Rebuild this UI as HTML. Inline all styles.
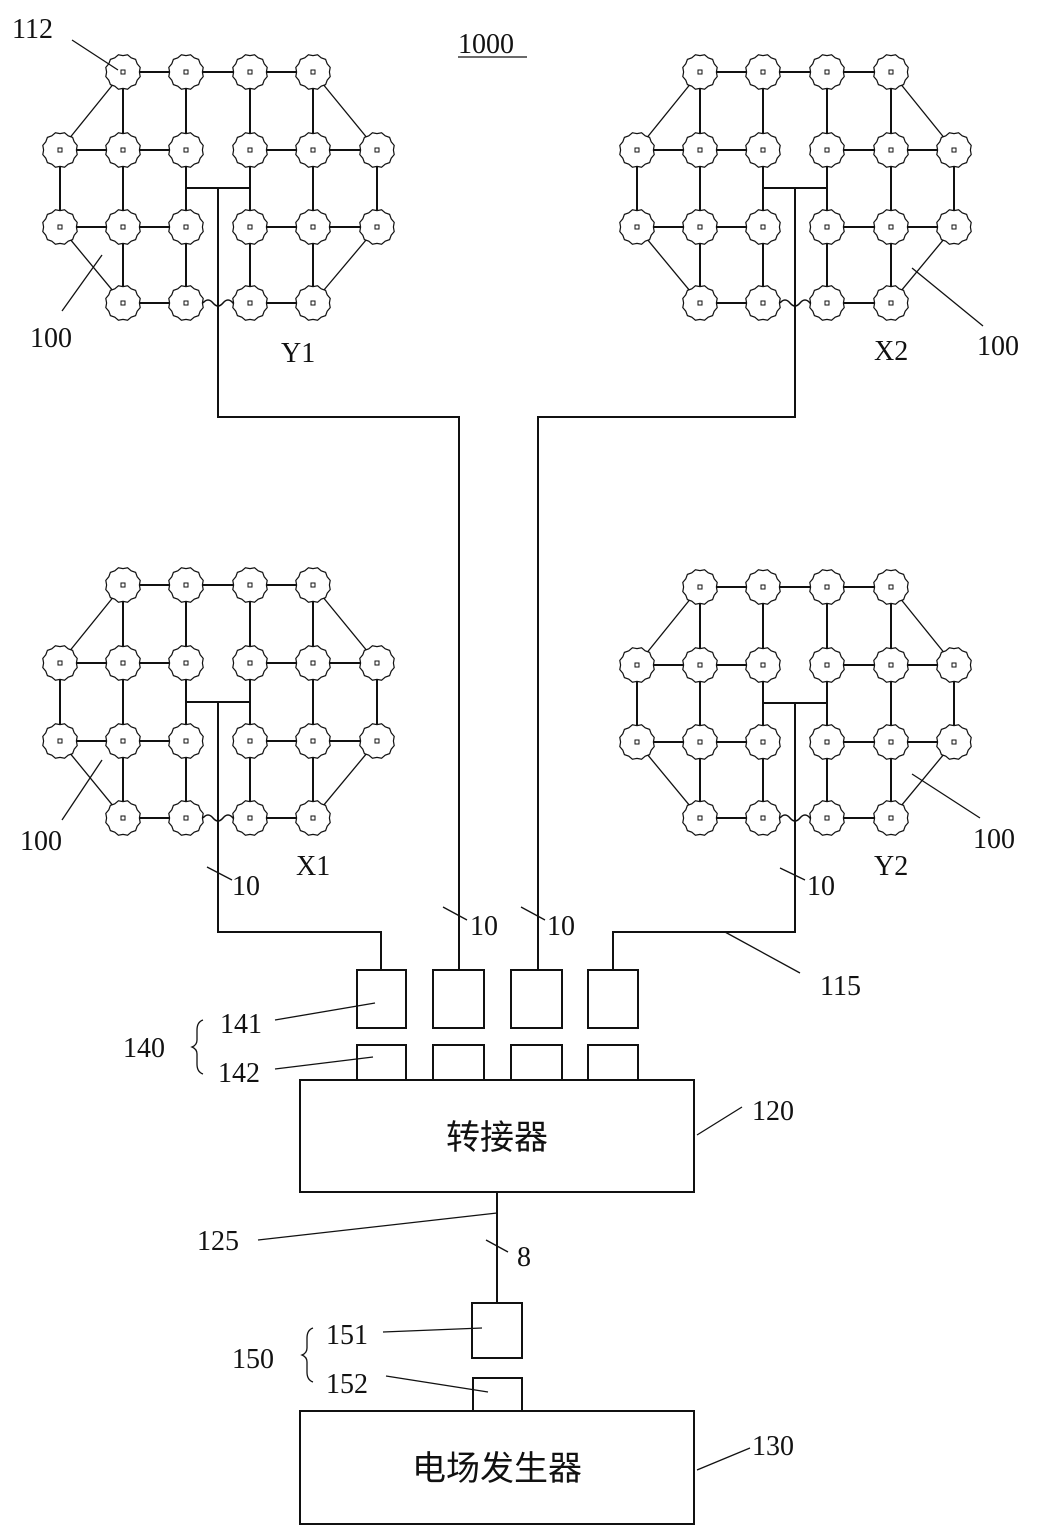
<!DOCTYPE html>
<html><head><meta charset="utf-8"><style>
html,body{margin:0;padding:0;background:#fff;}
svg{display:block;}
text{font-family:"Liberation Serif","Noto Serif CJK SC",serif;font-size:28px;fill:#111;}
.cn{font-family:"Liberation Sans","Noto Sans CJK SC",sans-serif;font-size:34px;}
</style></head><body>
<svg id="s" width="1044" height="1539" viewBox="0 0 1044 1539" xmlns="http://www.w3.org/2000/svg" stroke="#111" stroke-width="2" fill="none">
<g id="arrays"></g>
<polyline points="218,188 218,417 459,417 459,970"/>
<polyline points="795,188 795,417 538,417 538,970"/>
<polyline points="218,702 218,932 381,932 381,970"/>
<polyline points="795,702 795,932 613,932 613,970"/>
<rect x="357" y="970" width="49" height="58"/>
<rect x="433" y="970" width="51" height="58"/>
<rect x="511" y="970" width="51" height="58"/>
<rect x="588" y="970" width="50" height="58"/>
<rect x="357" y="1045" width="49" height="35"/>
<rect x="433" y="1045" width="51" height="35"/>
<rect x="511" y="1045" width="51" height="35"/>
<rect x="588" y="1045" width="50" height="35"/>
<rect x="300" y="1080" width="394" height="112"/>
<line x1="497" y1="1192" x2="497" y2="1303"/>
<rect x="472" y="1303" width="50" height="55"/>
<rect x="473" y="1378" width="49" height="33"/>
<rect x="300" y="1411" width="394" height="113"/>
<g stroke-width="1.3">
<line x1="72" y1="40" x2="118" y2="70"/>
<line x1="62" y1="311" x2="102" y2="255"/>
<line x1="983" y1="326" x2="912" y2="268"/>
<line x1="62" y1="820" x2="102" y2="760"/>
<line x1="980" y1="818" x2="912" y2="774"/>
<line x1="207" y1="867" x2="232" y2="880"/>
<line x1="443" y1="907" x2="467" y2="920"/>
<line x1="521" y1="907" x2="545" y2="920"/>
<line x1="780" y1="868" x2="805" y2="880"/>
<line x1="725" y1="932" x2="800" y2="973"/>
<line x1="275" y1="1020" x2="375" y2="1003"/>
<line x1="275" y1="1069" x2="373" y2="1057"/>
<line x1="697" y1="1135" x2="742" y2="1107"/>
<line x1="258" y1="1240" x2="497" y2="1213"/>
<line x1="486" y1="1240" x2="508" y2="1252"/>
<line x1="383" y1="1332" x2="482" y2="1328"/>
<line x1="386" y1="1376" x2="488" y2="1392"/>
<line x1="697" y1="1470" x2="750" y2="1448"/>
<line x1="458" y1="57" x2="527" y2="57"/>
</g>
<path d="M203 1020 q-6 2 -6 10 v10 q0 5 -5 7 q5 2 5 7 v10 q0 8 6 10" stroke-width="1.3"/>
<path d="M313 1328 q-6 2 -6 10 v10 q0 5 -5 7 q5 2 5 7 v10 q0 8 6 10" stroke-width="1.3"/>
<g stroke="none">
<text x="12" y="38">112</text>
<text x="458" y="53">1000</text>
<text x="30" y="347">100</text>
<text x="281" y="362">Y1</text>
<text x="874" y="360">X2</text>
<text x="977" y="355">100</text>
<text x="20" y="850">100</text>
<text x="296" y="875">X1</text>
<text x="874" y="875">Y2</text>
<text x="973" y="848">100</text>
<text x="232" y="895">10</text>
<text x="470" y="935">10</text>
<text x="547" y="935">10</text>
<text x="807" y="895">10</text>
<text x="820" y="995">115</text>
<text x="123" y="1057">140</text>
<text x="220" y="1033">141</text>
<text x="218" y="1082">142</text>
<text x="752" y="1120">120</text>
<text x="197" y="1250">125</text>
<text x="517" y="1266">8</text>
<text x="232" y="1368">150</text>
<text x="326" y="1344">151</text>
<text x="326" y="1393">152</text>
<text x="752" y="1455">130</text>
<text class="cn" x="497" y="1149" text-anchor="middle">转接器</text>
<text class="cn" x="497" y="1480" text-anchor="middle">电场发生器</text>
</g>
</svg>
<script>
(function(){
var g=document.getElementById('arrays');var NS='http://www.w3.org/2000/svg';
function el(n,a){var e=document.createElementNS(NS,n);for(var k in a)e.setAttribute(k,a[k]);g.appendChild(e);return e;}
function line(a,b,c,d,w){el('line',{x1:a,y1:b,x2:c,y2:d,'stroke-width':w||2});}
function arr(cx,ry,busY){
 var R=17;
 var P=function(c,r){return [cx[c],ry[r]];};
 var rows={0:[1,2,3,4],1:[0,1,2,3,4,5],2:[0,1,2,3,4,5],3:[1,2,3,4]};
 function H(r,a,b){var p=P(a,r),q=P(b,r);line(p[0]+R,p[1],q[0]-R,q[1]);}
 function V(c,a,b){var p=P(c,a),q=P(c,b);line(p[0],p[1]+R,q[0],q[1]-R);}
 function D(c1,r1,c2,r2){var p=P(c1,r1),q=P(c2,r2);var dx=q[0]-p[0],dy=q[1]-p[1],L=Math.sqrt(dx*dx+dy*dy);line(p[0]+dx/L*R,p[1]+dy/L*R,q[0]-dx/L*R,q[1]-dy/L*R,1.3);}
 H(0,1,2);H(0,2,3);H(0,3,4);
 H(1,0,1);H(1,1,2);H(1,3,4);H(1,4,5);
 H(2,0,1);H(2,1,2);H(2,3,4);H(2,4,5);
 H(3,1,2);H(3,3,4);
 var p=P(2,3),q=P(3,3);
 el('path',{d:'M'+(p[0]+R)+' '+p[1]+' q5 -6 10 0 q5 6 10 0 q5 -6 10 0 q2 3 '+(q[0]-R-p[0]-R-30)+' 0','stroke-width':1.5});
 V(1,0,1);V(1,1,2);V(1,2,3);V(4,0,1);V(4,1,2);V(4,2,3);
 V(2,0,1);V(2,2,3);V(3,0,1);V(3,2,3);V(0,1,2);V(5,1,2);
 line(cx[2],ry[1]+R,cx[2],ry[2]-R);line(cx[3],ry[1]+R,cx[3],ry[2]-R);
 line(cx[2],busY,cx[3],busY);
 D(1,0,0,1);D(4,0,5,1);D(0,2,1,3);D(5,2,4,3);
 for(var r in rows){rows[r].forEach(function(c){
  var x=cx[c],y=ry[r];var d='';
  for(var i=0;i<=24;i++){var t=i/24*Math.PI*2;var rr=R+(i%2?0.8:-0.6);d+=(i?'L':'M')+(x+rr*Math.cos(t)).toFixed(1)+' '+(y+rr*Math.sin(t)).toFixed(1);}
  el('path',{d:d+'Z','stroke-width':1.2,fill:'#fff'});
  el('rect',{x:x-2,y:y-2,width:4,height:4,'stroke-width':1});
 });}
}
var L=[60,123,186,250,313,377],Rr=[637,700,763,827,891,954];
arr(L,[72,150,227,303],188);
arr(Rr,[72,150,227,303],188);
arr(L,[585,663,741,818],702);
arr(Rr,[587,665,742,818],703);
})();
</script>
</body></html>
